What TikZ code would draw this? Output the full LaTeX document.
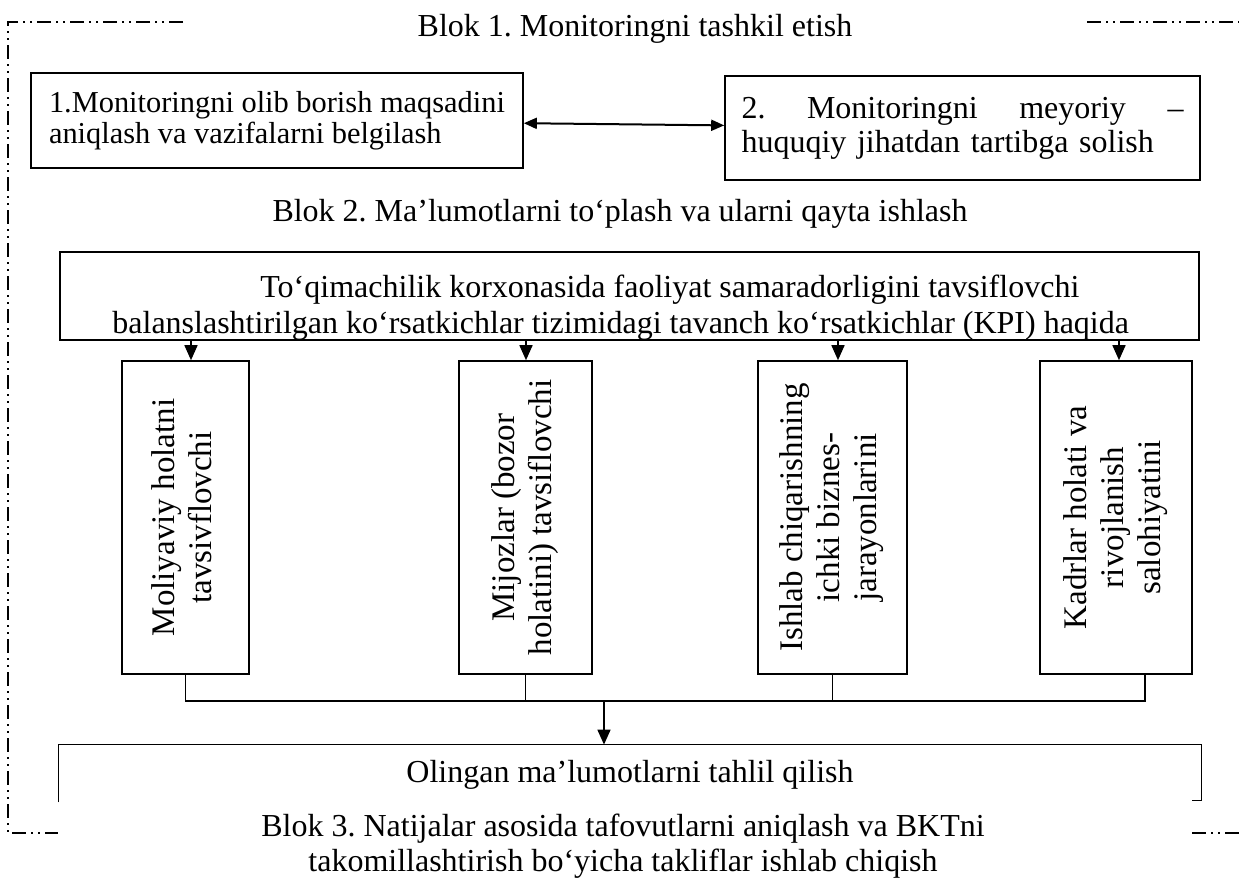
\documentclass[tikz,border=0pt]{standalone}
\usepackage{fontspec}
\setmainfont{Liberation Serif}
\usepackage{graphicx}
\usetikzlibrary{arrows.meta}
\frenchspacing
\newcommand\vtx[1]{{\fontsize{16.5}{18.5}\selectfont\begin{tabular}{@{}c@{}}#1\end{tabular}}}
\begin{document}
\begin{tikzpicture}[x=0.5pt,y=-0.5pt,
  every node/.style={font=\fontsize{16}{17}\selectfont, inner sep=0pt},
  box/.style={draw, line width=0.8pt},
  conn/.style={line width=0.8pt},
  arr/.style={line width=0.8pt, -{Triangle[length=7.5pt,width=6.5pt]}},
  dbl/.style={line width=1pt, {Triangle[length=6.5pt,width=5.5pt]}-{Triangle[length=6.5pt,width=5.5pt]}},
  frame/.style={line width=0.6pt, dash pattern=on 7pt off 2.5pt on 1pt off 2.5pt on 1pt off 2.5pt}
]
\useasboundingbox (0,0) rectangle (1239,879);

% outer dash-dot frame
\coordinate (f1) at (183,22); \coordinate (f2) at (8,22);
\coordinate (f3) at (8,833); \coordinate (f4) at (58,833);
\draw[frame] (f1) -- (f2) -- (f3) -- (f4);
\coordinate (f5) at (1087,22); \coordinate (f6) at (1239,22);
\draw[frame] (f5) -- (f6);
\coordinate (f7) at (1192,833); \coordinate (f8) at (1239,833);
\draw[frame] (f7) -- (f8);

% Block 1
\node (t1) at (635,29) {Blok 1. Monitoringni tashkil etish};
\node[box, minimum width=246pt, minimum height=47.5pt, align=left, font=\fontsize{15.2}{15.5}\selectfont] (b1) at (277,120.5)
  {1.Monitoringni olib borish maqsadini\\aniqlash va vazifalarni belgilash};
\node[box, minimum width=237.5pt, minimum height=52pt, text width=221pt, align=left] (b2) at (962.5,128)
  {2.\hfill Monitoringni\hfill meyoriy\hfill –\\huquqiy jihatdan tartibga solish};
\draw[dbl] (b1) -- (b2);

% Block 2
\node (t2) at (620,214) {Blok 2. Ma’lumotlarni to‘plash va ularni qayta ishlash};
\node[box, minimum width=569.5pt, minimum height=44pt] (kpi) at (629.5,296) {};
\begin{scope}
  \clip (kpi.north west) rectangle (kpi.south east);
  \node[anchor=base west] (k1) at (260,297) {To‘qimachilik korxonasida faoliyat samaradorligini tavsiflovchi};
  \node[anchor=base west] (k2) at (112,333) {balanslashtirilgan ko‘rsatkichlar tizimidagi tavanch ko‘rsatkichlar (KPI) haqida};
\end{scope}

\node[box, minimum width=63.5pt, minimum height=156.5pt] (vA) at (185.5,517.5)
  {\rotatebox{90}{\vtx{Moliyaviy holatni\\tavsivflovchi}}};
\node[box, minimum width=66.5pt, minimum height=156.5pt] (vB) at (525.5,517.5)
  {\rotatebox{90}{\vtx{Mijozlar (bozor\\holatini) tavsiflovchi}}};
\node[box, minimum width=74.5pt, minimum height=156.5pt] (vC) at (832.5,517.5)
  {\rotatebox{90}{\vtx{Ishlab chiqarishning\\ichki biznes-\\jarayonlarini}}};
\node[box, minimum width=76pt, minimum height=156.5pt] (vD) at (1116,517.5)
  {\rotatebox{90}{\vtx{Kadrlar holati va\\rivojlanish\\salohiyatini}}};

\coordinate (aA) at (191,0); \coordinate (aB) at (526,0);
\coordinate (aC) at (838,0); \coordinate (aD) at (1119,0);
\draw[arr] (aA |- kpi.south) -- (aA |- vA.north);
\draw[arr] (aB |- kpi.south) -- (aB |- vB.north);
\draw[arr] (aC |- kpi.south) -- (aC |- vC.north);
\draw[arr] (aD |- kpi.south) -- (aD |- vD.north);

\coordinate (hb) at (0,701);
\coordinate (dD) at ([xshift=-24pt]vD.south east);
\draw[conn] (vA.south) -- (vA.south |- hb) -- (dD |- hb) -- (dD);
\draw[conn] (vB.south) -- (vB.south |- hb);
\draw[conn] (vC.south) -- (vC.south |- hb);

% Result box (open at the bottom)
\node[minimum width=571pt, minimum height=30pt] (res) at (630,775) {Olingan ma’lumotlarni tahlil qilish};
\draw[conn] ([yshift=1.5pt]res.south west) -- (res.north west) -- (res.north east)
  -- ([yshift=2.5pt]res.south east) -- ([xshift=-4.5pt,yshift=2.5pt]res.south east);
\coordinate (ma) at (604,701);
\draw[arr] (ma) -- (ma |- res.north);

% Block 3
\node[align=center, font=\fontsize{16}{17.5}\selectfont] (t3) at (623,846)
  {Blok 3. Natijalar asosida tafovutlarni aniqlash va BKTni\\takomillashtirish bo‘yicha takliflar ishlab chiqish};
\end{tikzpicture}
\end{document}
